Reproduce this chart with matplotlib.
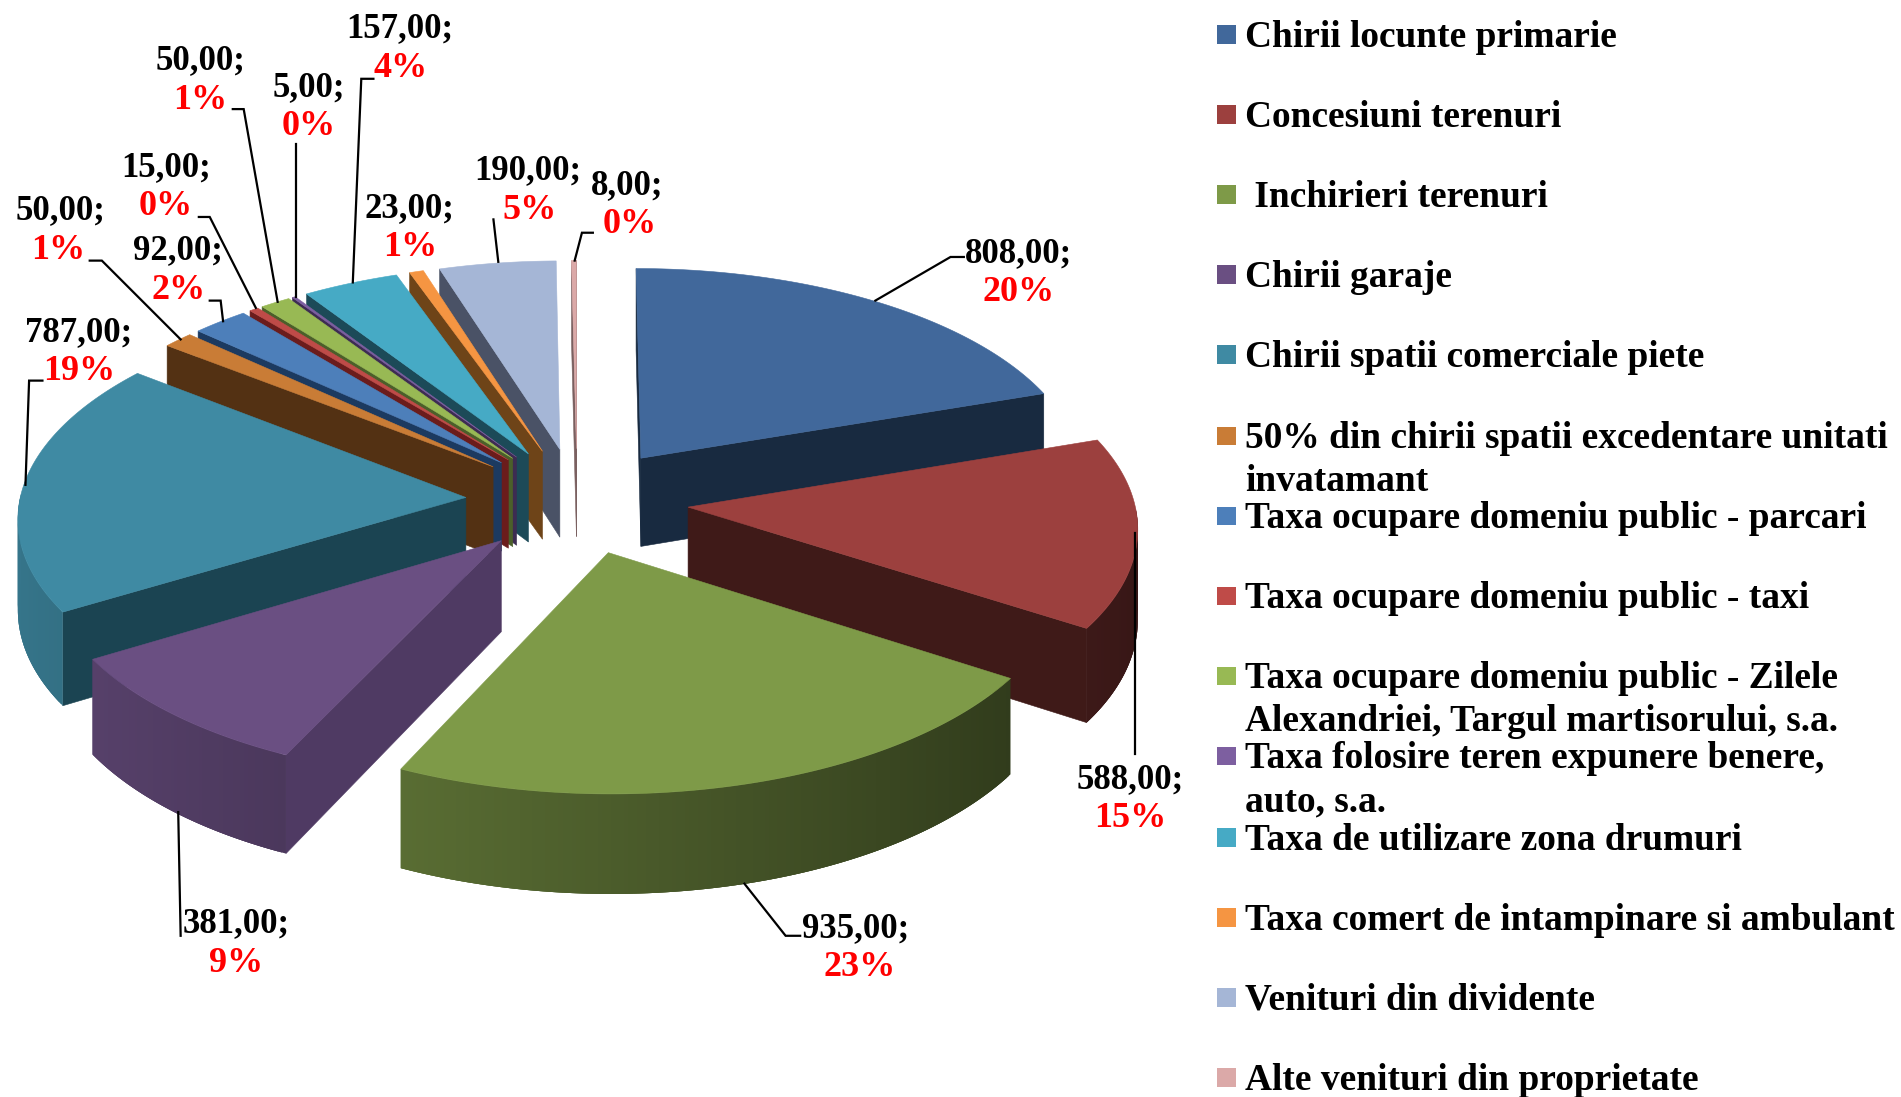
import numpy as np
import matplotlib
matplotlib.use("Agg")
import matplotlib.pyplot as plt
from matplotlib.patches import Polygon, Rectangle

plt.rcParams['font.family'] = ['Liberation Serif', 'DejaVu Serif']

categories = ["Chirii locunte primarie", "Concesiuni terenuri", " Inchirieri terenuri", "Chirii garaje",
              "Chirii spatii comerciale piete", "50% din chirii spatii excedentare unitati\ninvatamant",
              "Taxa ocupare domeniu public - parcari", "Taxa ocupare domeniu public - taxi",
              "Taxa ocupare domeniu public - Zilele\nAlexandriei, Targul martisorului, s.a.",
              "Taxa folosire teren expunere benere,\nauto, s.a.", "Taxa de utilizare zona drumuri",
              "Taxa comert de intampinare si ambulant", "Venituri din dividente",
              "Alte venituri din proprietate"]
values = [808, 588, 935, 381, 787, 50, 92, 15, 50, 5, 157, 23, 190, 8]
percents = ["20%", "15%", "23%", "9%", "19%", "1%", "2%", "0%", "1%", "0%", "4%", "1%", "5%", "0%"]

top_colors = ['#41689b', '#9c403e', '#7e9a48', '#6a4f82', '#3f8aa3', '#c97c36', '#4d7fba',
              '#bf4b48', '#98b954', '#7d5fa0', '#46aac5', '#f59542', '#a5b6d6', '#dba9a8']
wall_colors = ['#182a40', '#3f1a18', '#333d1c', '#4f3a63', '#1b4452', '#533113', '#1c3a60',
               '#6b1c1c', '#4b5f2a', '#3d2c52', '#1c4a58', '#6e4418', '#4a5266', '#7a6060']

# label centres and leader lines, in the 1568x905 view of the picture
label_pos = [(840, 209), (932, 643), (706, 766), (195, 762), (65, 274), (50, 174), (147, 207),
             (137, 138), (165, 50), (255, 72), (330, 24), (338, 172), (435, 141), (517, 153)]
pct_shift = [0, 0, 3, 0, 0, -2, 0, 0, 0, 0, 0, 0, 2, 2]
leaders = [[(722, 248), (784, 212), (795, 212)], [(936, 440), (936, 622)],
           [(614, 729), (648, 772), (660, 772)], [(147, 670), (149, 772)],
           [(21, 400), (24, 314), (35, 314)], [(149, 280), (84, 215), (74, 215)],
           [(184, 265), (182, 248), (173, 248)], [(211, 254), (173, 179), (164, 179)],
           [(229, 249), (201, 90), (192, 90)], [(244, 245), (244, 119)],
           [(291, 233), (298, 65), (308, 65)], [(411, 216), (407, 181)],
           [(474, 215), (480, 192), (489, 192)]]
legend_y = [31, 97, 163, 229, 295, 362, 428, 494, 560, 626, 693, 759, 825, 891]

cx, cy = 476, 413
a, b = 368, 175
persp = 0.083
depth = 74
explode = 0.25


def project(X, Y, Z=0.0):
    s = 1 / (1 + persp * np.asarray(Y, dtype=float))
    return cx + a * np.asarray(X) * s, cy - b * np.asarray(Y) * s + depth * Z * s


def face(ax, X, Y, Z, color, z, lw=0.4):
    x, y = project(np.array(X), np.array(Y), np.array(Z))
    ax.add_patch(Polygon(np.column_stack([x, y]), closed=True, facecolor=color, edgecolor=color if lw else 'none',
                         linewidth=lw, zorder=z))


def shade(color, t):
    rgb = np.array(matplotlib.colors.to_rgb(color))
    return tuple(rgb * np.clip(0.6 - 0.25 * np.sin(t), 0.35, 0.85))


fig = plt.figure(figsize=(19.01, 10.97), dpi=100, facecolor='white')
ax = fig.add_axes([0, 0, 1, 1])
ax.set_xlim(0, 1568)
ax.set_ylim(905, 0)
ax.axis('off')

fractions = np.array(values) / sum(values)
edges = np.concatenate([[0], np.cumsum(fractions)]) * 2 * np.pi

slices = []
for i in range(len(values)):
    t0, t1 = edges[i], edges[i + 1]
    tm = (t0 + t1) / 2
    ox, oy = explode * np.sin(tm), explode * np.cos(tm)
    slices.append((oy + 0.6 * np.cos(tm), i, t0, t1, ox, oy))
slices.sort(key=lambda r: -r[0])

z = 1
for _, i, t0, t1, ox, oy in slices:
    ts = np.linspace(t0, t1, max(3, int(np.degrees(t1 - t0)) * 2))
    rx, ry = ox + np.sin(ts), oy + np.cos(ts)
    # cut walls, only the ones facing the viewer
    if np.cos(t0 - np.pi / 2) < 1e-6:
        face(ax, [ox, rx[0], rx[0], ox], [oy, ry[0], ry[0], oy], [0, 0, 1, 1], wall_colors[i], z)
        z += 1
    if np.cos(t1 + np.pi / 2) < 1e-6:
        face(ax, [ox, rx[-1], rx[-1], ox], [oy, ry[-1], ry[-1], oy], [0, 0, 1, 1], wall_colors[i], z)
        z += 1
    # outer rim, shaded from left to right; each strip runs under the next so no seams show
    for j in range(len(ts) - 1):
        tmid = (ts[j] + ts[j + 1]) / 2
        if np.cos(tmid) < 0:
            k = min(j + 3, len(ts) - 1)
            idx = np.arange(j, k + 1)
            face(ax, np.r_[rx[idx], rx[idx][::-1]], np.r_[ry[idx], ry[idx][::-1]],
                 np.r_[np.zeros(len(idx)), np.ones(len(idx))], shade(top_colors[i], tmid), z, lw=0)
            z += 1
    face(ax, np.r_[ox, rx], np.r_[oy, ry], np.zeros(len(rx) + 1), top_colors[i], z)
    z += 1

for pts in leaders:
    ax.plot([p[0] for p in pts], [p[1] for p in pts], color='black', lw=1.6, zorder=z,
            solid_joinstyle='miter')

fs = 25
for v, p, (lx, ly), dx in zip(values, percents, label_pos, pct_shift):
    ax.text(lx, ly, f"{v:.2f}".replace('.', ',') + ';', ha='center', va='center', fontsize=fs,
            fontweight='bold', color='black', zorder=z + 1)
    ax.text(lx + dx, ly + 32.5, p, ha='center', va='center', fontsize=fs + 1, fontweight='bold',
            color='#ff0000', zorder=z + 1)

for name, color, ly in zip(categories, top_colors, legend_y):
    ax.add_patch(Rectangle((1003.5, ly - 10), 16, 15.5, facecolor=color, edgecolor='none', zorder=z))
    for k, line in enumerate(name.split('\n')):
        ax.text(1027, ly + k * 35.5, line, ha='left', va='center', fontsize=26.9,
                fontweight='bold', color='black', zorder=z + 1)

fig.savefig('out.png', dpi=100, facecolor='white')
